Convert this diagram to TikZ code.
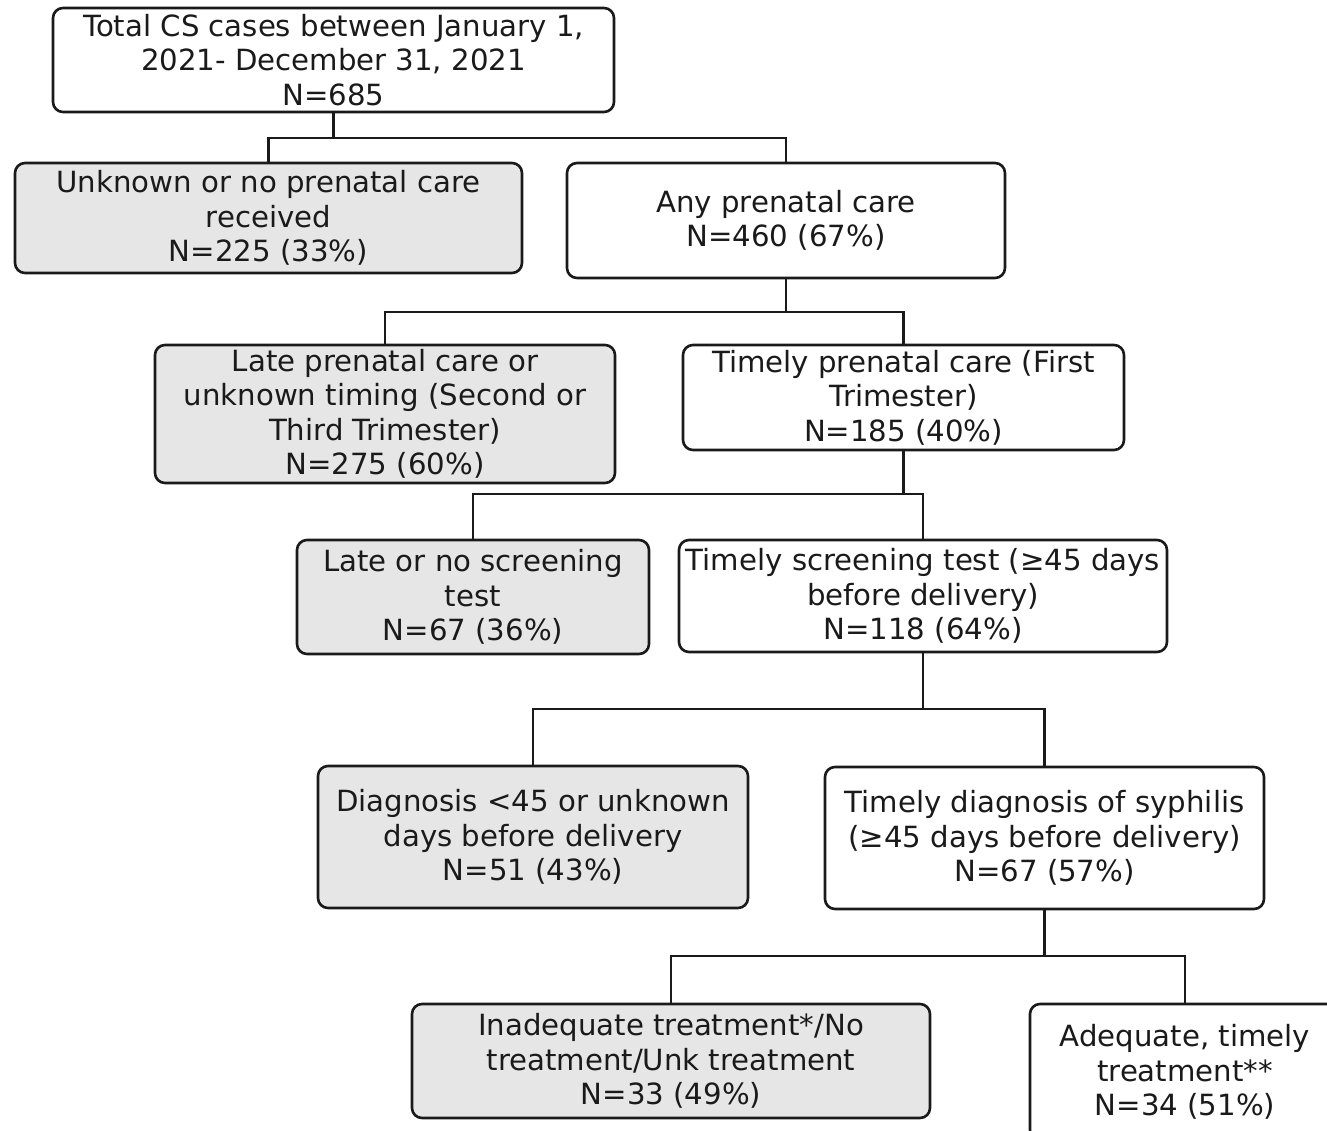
\documentclass[tikz,border=0pt]{standalone}
\usepackage{fontspec}
\setmainfont{DejaVu Sans}
\definecolor{boxgray}{HTML}{E6E6E6}
\definecolor{ink}{HTML}{1A1A1A}
\tikzset{
  box/.style={draw=ink, line width=2.6pt, rounded corners=10pt, align=center, inner sep=0pt,
    font=\fontsize{29.2}{34.5}\selectfont, text=ink},
  grey/.style={box, fill=boxgray},
  white/.style={box, fill=white},
  link/.style={draw=ink, line width=2.6pt}
}
\begin{document}
\begin{tikzpicture}[x=1pt,y=-1pt]
\useasboundingbox (0,0) rectangle (1327,1131);
\node[white, minimum width=561pt, minimum height=104pt] (n1) at (333.5,60) {Total CS cases between January 1,\\2021- December 31, 2021\\N=685};
\node[grey, minimum width=507pt, minimum height=110pt] (n2) at (268.5,218) {Unknown or no prenatal care\\received\\N=225 (33\%)};
\node[white, minimum width=438pt, minimum height=115pt] (n3) at (786,220.5) {Any prenatal care\\N=460 (67\%)};
\node[grey, minimum width=460pt, minimum height=138pt] (n4) at (385,414) {Late prenatal care or\\unknown timing (Second or\\Third Trimester)\\N=275 (60\%)};
\node[white, minimum width=441pt, minimum height=105pt] (n5) at (903.5,397.5) {Timely prenatal care (First\\Trimester)\\N=185 (40\%)};
\node[grey, minimum width=352pt, minimum height=114pt] (n6) at (473,597) {Late or no screening\\test\\N=67 (36\%)};
\node[white, minimum width=488pt, minimum height=112pt] (n7) at (923,596) {Timely screening test (≥45 days\\before delivery)\\N=118 (64\%)};
\node[grey, minimum width=430pt, minimum height=142pt] (n8) at (533,837) {Diagnosis <45 or unknown\\days before delivery\\N=51 (43\%)};
\node[white, minimum width=439pt, minimum height=142pt] (n9) at (1044.5,838) {Timely diagnosis of syphilis\\(≥45 days before delivery)\\N=67 (57\%)};
\node[grey, minimum width=518pt, minimum height=114pt] (n10) at (671,1061) {Inadequate treatment*/No\\treatment/Unk treatment\\N=33 (49\%)};
\node[white, minimum width=310pt, minimum height=136pt] (n11) at (1185,1072) {Adequate, timely\\treatment**\\N=34 (51\%)};

\coordinate (j1) at (333.5,138);
\coordinate (j2) at (786,312);
\coordinate (j3) at (903.5,494);
\coordinate (j4) at (923,709);
\coordinate (j5) at (1044.5,956);

\draw[link] (n1.south) -- (j1);
\draw[link] (j1) -| (n2.north);
\draw[link] (j1) -| (n3.north);
\draw[link] (n3.south) -- (j2);
\draw[link] (j2) -| (n4.north);
\draw[link] (j2) -| (n5.north);
\draw[link] (n5.south) -- (j3);
\draw[link] (j3) -| (n6.north);
\draw[link] (j3) -| (n7.north);
\draw[link] (n7.south) -- (j4);
\draw[link] (j4) -| (n8.north);
\draw[link] (j4) -| (n9.north);
\draw[link] (n9.south) -- (j5);
\draw[link] (j5) -| (n10.north);
\draw[link] (j5) -| (n11.north);
\end{tikzpicture}
\end{document}
